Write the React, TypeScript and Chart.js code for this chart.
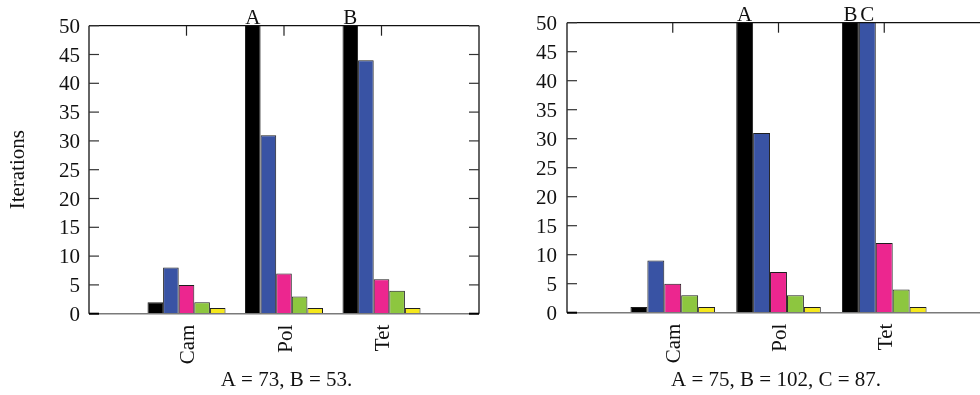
import React, { useEffect, useRef } from 'react';
import { Chart, registerables } from 'chart.js';

Chart.register(...registerables);

// ---- data ----
const categories = ['Cam', 'Pol', 'Tet'];
const seriesColors = ['#000000', '#3953a4', '#ec268f', '#8dc63f', '#f5e81c'];

const leftBlack = [2, 73, 53];
const leftBlue = [8, 31, 44];
const leftPink = [5, 7, 6];
const leftGreen = [2, 3, 4];
const leftYellow = [1, 1, 1];

const rightBlack = [1, 75, 102];
const rightBlue = [9, 31, 87];
const rightPink = [5, 7, 12];
const rightGreen = [3, 3, 4];
const rightYellow = [1, 1, 1];

const yMin = 0;
const yMax = 50;
const yStep = 5;
const yTitle = 'Iterations';

const FONT = '"Liberation Serif", "Times New Roman", serif';
const FONT_SIZE = 21;
const H = 395;

type Geo = {
  canvasLeft: number;
  canvasWidth: number;
  areaLeft: number;
  areaRight: number;
  areaTop: number;
  areaBottom: number;
  tickPad: number;
  captionX: number;
  captionY: number;
  showTitle: boolean;
};

const overflowList = (series: number[][]) => {
  const out: { c: number; d: number; v: number; letter: string }[] = [];
  let k = 0;
  categories.forEach((_, c) => {
    series.forEach((s, d) => {
      if (s[c] > yMax) {
        out.push({ c, d, v: s[c], letter: String.fromCharCode(65 + k) });
        k++;
      }
    });
  });
  return out;
};

function Panel({ series, geo }: { series: number[][]; geo: Geo }) {
  const ref = useRef<HTMLCanvasElement | null>(null);
  useEffect(() => {
    if (!ref.current) return;
    const labels = ['', ...categories, ''];
    const over = overflowList(series);
    const caption = over.map((o) => `${o.letter} = ${o.v}`).join(', ') + '.';
    const yAxisWidth = geo.areaLeft - geo.canvasLeft;
    const padRight = geo.canvasLeft + geo.canvasWidth - geo.areaRight;
    const xAxisHeight = H - geo.areaBottom;

    const framePlugin = {
      id: 'frame',
      afterDatasetsDraw(chart: any) {
        const { ctx, chartArea } = chart;
        const { left, right, top, bottom } = chartArea;
        const xs = chart.scales.x;
        const ys = chart.scales.y;
        const seg = (x1: number, y1: number, x2: number, y2: number) => {
          ctx.beginPath();
          ctx.moveTo(x1, y1);
          ctx.lineTo(x2, y2);
          ctx.stroke();
        };
        ctx.save();
        // zero line / bottom
        ctx.strokeStyle = '#7a7a7a';
        ctx.lineWidth = 1.5;
        seg(left, bottom, right, bottom);
        // frame
        ctx.strokeStyle = '#111';
        ctx.lineWidth = 1.3;
        seg(left, top, right, top);
        seg(left, top, left, bottom);
        seg(right, top, right, bottom);
        // y ticks inward
        for (let v = yMin; v <= yMax; v += yStep) {
          const py = ys.getPixelForValue(v);
          if (v === yMin) {
            ctx.strokeStyle = '#000';
            ctx.lineWidth = 2;
          } else {
            ctx.strokeStyle = '#333';
            ctx.lineWidth = 1.2;
          }
          seg(left, py, left + 10, py);
          seg(right - 10, py, right, py);
        }
        // x ticks on top
        ctx.strokeStyle = '#222';
        ctx.lineWidth = 1.2;
        categories.forEach((_, c) => {
          const px = xs.getPixelForValue(c + 1);
          seg(px, top, px, top + 10);
        });
        // overflow letters
        ctx.fillStyle = '#111';
        ctx.font = `${FONT_SIZE}px ${FONT}`;
        ctx.textAlign = 'center';
        ctx.textBaseline = 'alphabetic';
        over.forEach((o) => {
          const el = chart.getDatasetMeta(o.d).data[o.c + 1];
          ctx.fillText(o.letter, el.x, top - 1.5);
        });
        // caption
        ctx.textBaseline = 'middle';
        ctx.fillText(caption, geo.captionX - geo.canvasLeft, geo.captionY);
        ctx.restore();
      },
    };

    const chart = new Chart(ref.current, {
      type: 'bar',
      data: {
        labels,
        datasets: series.map((s, d) => ({
          label: `s${d}`,
          data: [null, ...s, null],
          backgroundColor: seriesColors[d],
          borderColor: '#1e1e1e',
          borderWidth: 1,
          borderSkipped: 'bottom',
          clip: 0,
          categoryPercentage: 0.8,
          barPercentage: 1,
        })),
      },
      options: {
        responsive: false,
        animation: false,
        events: [],
        layout: { padding: { left: 0, right: padRight, top: geo.areaTop, bottom: 0 } },
        plugins: {
          legend: { display: false },
          tooltip: { enabled: false },
          title: { display: false },
        },
        scales: {
          x: {
            type: 'category',
            offset: false,
            grid: { display: false, drawTicks: false, tickLength: 0 },
            border: { display: false },
            ticks: {
              autoSkip: false,
              minRotation: 90,
              maxRotation: 90,
              padding: 11,
              labelOffset: 2,
              color: '#111',
              font: { family: FONT, size: FONT_SIZE },
            },
            afterFit: (s: any) => {
              s.height = xAxisHeight;
              s.paddingLeft = 0;
              s.paddingRight = 0;
            },
          },
          y: {
            min: yMin,
            max: yMax,
            grid: { display: false, drawTicks: false, tickLength: 0 },
            border: { display: false },
            ticks: {
              stepSize: yStep,
              padding: geo.tickPad,
              labelOffset: 1.5,
              color: '#111',
              font: { family: FONT, size: FONT_SIZE },
            },
            title: {
              display: geo.showTitle,
              text: yTitle,
              color: '#111',
              font: { family: FONT, size: FONT_SIZE, lineHeight: 1.2 },
              padding: { top: 5.6, bottom: 0 },
            },
            afterFit: (s: any) => {
              s.width = yAxisWidth;
              s.paddingTop = 0;
              s.paddingBottom = 0;
            },
          },
        },
      },
      plugins: [framePlugin],
    } as any);
    return () => chart.destroy();
  }, []);
  return (
    <canvas
      ref={ref}
      width={geo.canvasWidth}
      height={H}
      style={{ position: 'absolute', left: geo.canvasLeft, top: 0, width: geo.canvasWidth, height: H }}
    />
  );
}

const leftGeo: Geo = {
  canvasLeft: 0,
  canvasWidth: 490,
  areaLeft: 89,
  areaRight: 479,
  areaTop: 25.7,
  areaBottom: 313.7,
  tickPad: 9,
  captionX: 286.5,
  captionY: 380,
  showTitle: true,
};

const rightGeo: Geo = {
  canvasLeft: 490,
  canvasWidth: 510,
  areaLeft: 567,
  areaRight: 990,
  areaTop: 22.7,
  areaBottom: 312.7,
  tickPad: 10,
  captionX: 776,
  captionY: 380,
  showTitle: false,
};

export default function App() {
  return (
    <div
      style={{
        position: 'fixed',
        left: 0,
        top: 0,
        width: 980,
        height: H,
        overflow: 'hidden',
        background: '#fff',
      }}
    >
      <Panel series={[leftBlack, leftBlue, leftPink, leftGreen, leftYellow]} geo={leftGeo} />
      <Panel series={[rightBlack, rightBlue, rightPink, rightGreen, rightYellow]} geo={rightGeo} />
    </div>
  );
}
